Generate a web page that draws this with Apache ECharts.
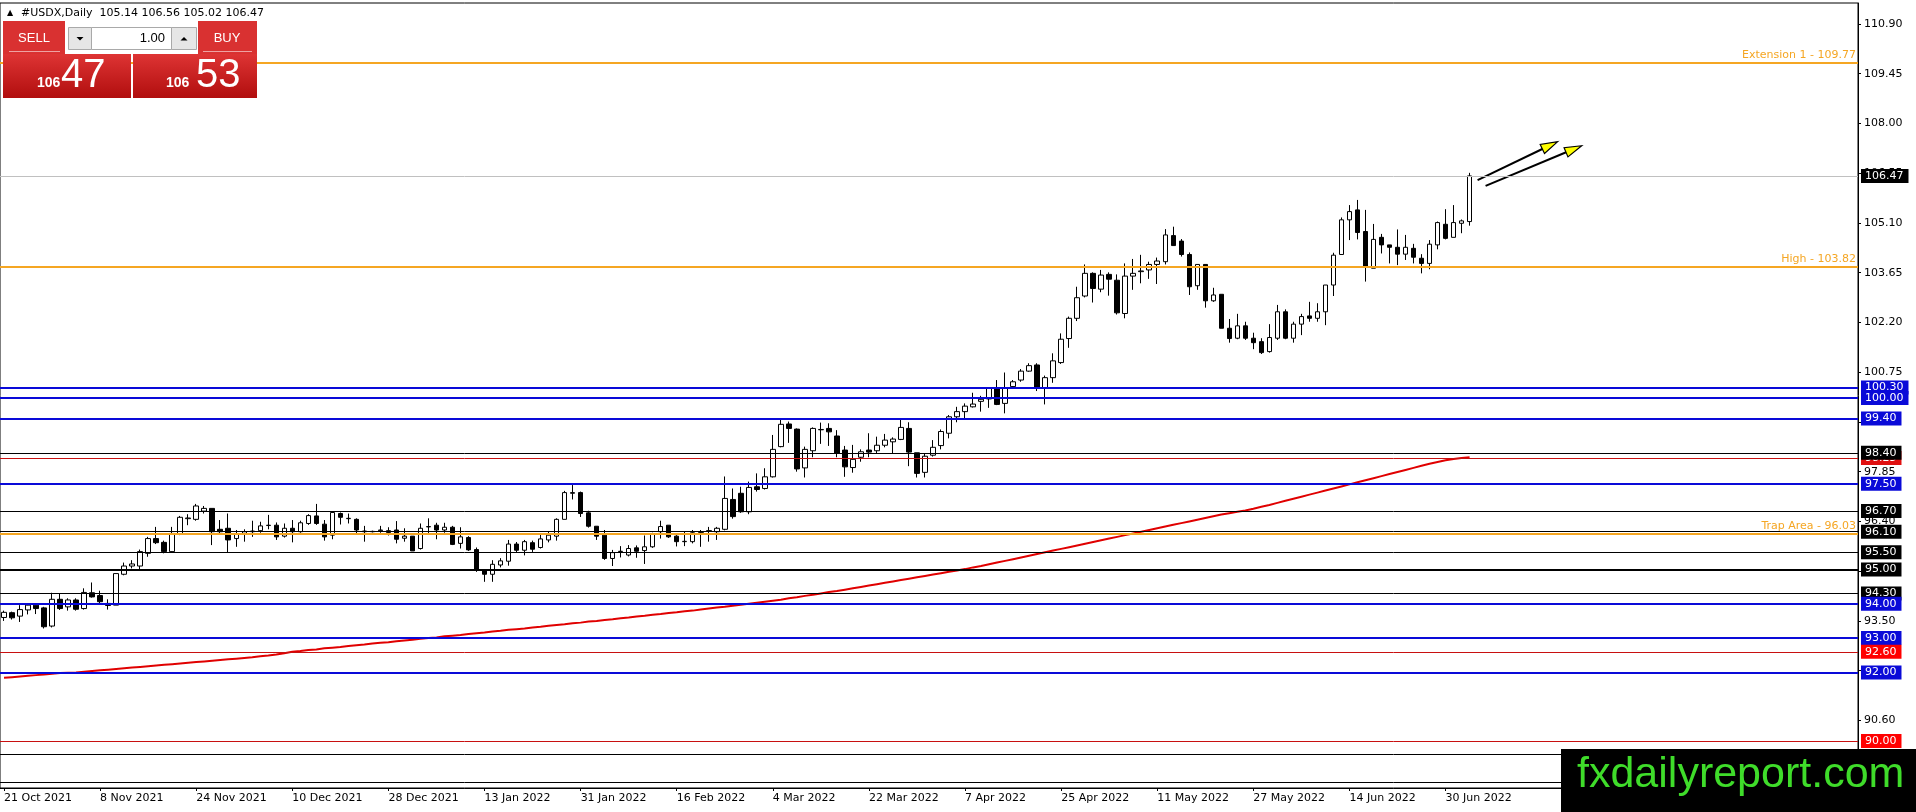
<!DOCTYPE html>
<html>
<head>
<meta charset="utf-8">
<title>#USDX,Daily</title>
<script src="https://cdn.jsdelivr.net/npm/echarts@6/dist/echarts.min.js"></script>
<style>
  html, body { margin: 0; padding: 0; background: #fff; }
  #chart { width: 1916px; height: 812px; }
</style>
</head>
<body>
<div id="chart"></div>
<script>
// daily bars, 21 Oct 2021 .. 5 Jul 2022 : [open, high, low, close]
const ohlc = [
  [93.60, 93.80, 93.50, 93.75], [93.74, 93.77, 93.54, 93.59], [93.64, 93.96, 93.47, 93.83], [93.82, 94.01, 93.69, 93.96],
  [93.96, 94.01, 93.70, 93.86], [93.88, 93.91, 93.28, 93.33], [93.35, 94.32, 93.31, 94.13], [94.13, 94.30, 93.82, 93.86],
  [93.91, 94.16, 93.80, 94.11], [94.11, 94.16, 93.80, 93.84], [93.86, 94.45, 93.83, 94.33], [94.32, 94.62, 94.18, 94.20],
  [94.24, 94.38, 93.99, 94.06], [94.01, 94.13, 93.83, 93.95], [93.96, 94.88, 93.96, 94.88], [94.86, 95.20, 94.83, 95.10],
  [95.10, 95.27, 95.03, 95.16], [95.10, 95.58, 94.96, 95.52], [95.47, 95.95, 95.37, 95.90], [95.90, 96.24, 95.74, 95.78],
  [95.79, 95.84, 95.47, 95.52], [95.52, 96.24, 95.49, 96.05], [96.03, 96.56, 96.00, 96.52], [96.48, 96.61, 96.29, 96.50],
  [96.46, 96.91, 96.42, 96.85], [96.70, 96.85, 96.63, 96.78], [96.78, 96.78, 95.71, 96.10], [96.17, 96.44, 96.05, 96.10],
  [96.20, 96.63, 95.49, 95.86], [95.90, 96.15, 95.66, 96.03], [96.05, 96.17, 95.81, 96.10], [96.10, 96.42, 95.95, 96.12],
  [96.13, 96.39, 96.07, 96.27], [96.28, 96.59, 96.17, 96.29], [96.29, 96.37, 95.86, 95.95], [95.97, 96.34, 95.93, 96.20],
  [96.20, 96.44, 95.79, 96.10], [96.10, 96.42, 96.07, 96.36], [96.34, 96.61, 96.30, 96.57], [96.56, 96.91, 96.30, 96.34],
  [96.32, 96.44, 95.84, 95.95], [96.00, 96.66, 95.88, 96.66], [96.63, 96.66, 96.31, 96.52], [96.48, 96.63, 96.34, 96.49],
  [96.46, 96.49, 96.02, 96.15], [96.12, 96.27, 95.81, 96.10], [96.10, 96.13, 96.08, 96.11], [96.13, 96.27, 96.07, 96.15],
  [96.13, 96.23, 95.99, 96.08], [96.15, 96.41, 95.76, 95.88], [95.91, 96.20, 95.81, 95.97], [95.97, 95.97, 95.54, 95.54],
  [95.61, 96.34, 95.58, 96.20], [96.24, 96.49, 96.05, 96.25], [96.29, 96.36, 95.88, 96.15], [96.15, 96.36, 96.07, 96.23],
  [96.23, 96.27, 95.71, 95.73], [95.76, 96.23, 95.61, 95.95], [95.93, 95.97, 95.54, 95.57], [95.58, 95.64, 94.93, 95.00],
  [94.98, 95.00, 94.64, 94.86], [94.86, 95.27, 94.64, 95.15], [95.13, 95.33, 95.06, 95.25], [95.24, 95.86, 95.11, 95.74],
  [95.74, 95.80, 95.48, 95.56], [95.56, 95.86, 95.41, 95.81], [95.78, 95.84, 95.51, 95.59], [95.64, 96.05, 95.61, 95.89],
  [95.86, 96.11, 95.79, 96.00], [95.97, 96.49, 95.84, 96.46], [96.46, 97.29, 96.46, 97.24], [97.22, 97.46, 97.04, 97.24],
  [97.24, 97.27, 96.53, 96.63], [96.65, 96.71, 96.22, 96.26], [96.26, 96.26, 95.86, 95.97], [96.00, 96.15, 95.28, 95.32],
  [95.32, 95.57, 95.10, 95.49], [95.52, 95.68, 95.35, 95.53], [95.42, 95.71, 95.38, 95.61], [95.63, 95.70, 95.34, 95.53],
  [95.55, 95.99, 95.16, 95.66], [95.66, 96.07, 95.63, 96.03], [96.10, 96.42, 95.90, 96.25], [96.29, 96.29, 95.92, 95.95],
  [95.97, 96.00, 95.67, 95.81], [95.81, 96.10, 95.68, 95.82], [95.81, 96.15, 95.76, 96.07], [96.08, 96.15, 95.66, 96.10],
  [96.12, 96.24, 95.81, 96.13], [96.10, 96.24, 95.86, 96.20], [96.17, 97.71, 96.14, 97.07], [97.04, 97.36, 96.48, 96.54],
  [97.22, 97.41, 96.65, 96.68], [96.68, 97.56, 96.61, 97.39], [97.41, 97.80, 97.27, 97.33], [97.36, 97.95, 97.33, 97.70],
  [97.70, 98.92, 97.68, 98.50], [98.58, 99.37, 98.56, 99.23], [99.24, 99.31, 98.69, 99.11], [99.09, 99.11, 97.85, 97.93],
  [97.96, 98.58, 97.68, 98.50], [98.46, 99.14, 98.27, 99.11], [99.07, 99.28, 98.66, 99.08], [99.11, 99.26, 98.60, 99.01],
  [98.89, 99.06, 98.27, 98.38], [98.48, 98.60, 97.70, 97.99], [97.97, 98.63, 97.82, 98.21], [98.27, 98.50, 98.14, 98.43],
  [98.48, 98.97, 98.27, 98.42], [98.46, 98.87, 98.38, 98.62], [98.62, 98.95, 98.56, 98.77], [98.72, 98.85, 98.38, 98.80],
  [98.79, 99.36, 98.77, 99.14], [99.11, 99.29, 98.01, 98.42], [98.40, 98.40, 97.68, 97.80], [97.83, 98.38, 97.68, 98.30],
  [98.33, 98.77, 98.29, 98.56], [98.61, 99.08, 98.50, 99.02], [98.97, 99.50, 98.82, 99.45], [99.45, 99.74, 99.29, 99.60],
  [99.60, 99.84, 99.38, 99.76], [99.74, 100.15, 99.72, 99.82], [99.90, 100.06, 99.60, 99.96], [99.97, 100.30, 99.71, 100.30],
  [100.30, 100.52, 99.79, 99.81], [99.84, 100.74, 99.55, 100.30], [100.33, 100.52, 100.30, 100.47], [100.52, 100.84, 100.47, 100.78],
  [100.78, 101.01, 100.76, 100.94], [100.96, 101.01, 100.20, 100.28], [100.30, 100.65, 99.81, 100.59], [100.59, 101.30, 100.44, 101.08],
  [101.03, 101.88, 100.99, 101.71], [101.73, 102.37, 101.46, 102.32], [102.32, 103.24, 102.24, 102.92], [102.97, 103.89, 102.93, 103.63],
  [103.63, 103.66, 102.78, 103.19], [103.17, 103.73, 103.08, 103.58], [103.60, 103.66, 102.98, 103.46], [103.43, 103.60, 102.43, 102.48],
  [102.46, 103.92, 102.32, 103.55], [103.55, 104.05, 103.15, 103.63], [103.68, 104.17, 103.34, 103.70], [103.73, 103.97, 103.47, 103.89],
  [103.89, 104.09, 103.32, 103.99], [103.97, 104.92, 103.89, 104.75], [104.73, 104.99, 104.44, 104.44], [104.57, 104.63, 104.12, 104.18],
  [104.18, 104.24, 103.00, 103.24], [103.27, 103.89, 103.15, 103.89], [103.89, 103.89, 102.63, 102.83], [102.83, 103.21, 102.80, 103.00],
  [103.02, 103.02, 102.03, 102.03], [102.03, 102.30, 101.61, 101.73], [101.74, 102.45, 101.71, 102.10], [102.10, 102.22, 101.69, 101.74],
  [101.74, 101.90, 101.42, 101.61], [101.64, 101.74, 101.28, 101.32], [101.35, 102.15, 101.32, 101.76], [101.74, 102.71, 101.69, 102.51],
  [102.51, 102.58, 101.71, 101.74], [101.74, 102.22, 101.61, 102.15], [102.15, 102.45, 101.83, 102.37], [102.39, 102.80, 102.22, 102.32],
  [102.32, 102.76, 102.22, 102.51], [102.51, 103.29, 102.12, 103.29], [103.29, 104.23, 102.97, 104.16], [104.18, 105.26, 104.18, 105.19],
  [105.19, 105.62, 104.60, 105.43], [105.48, 105.77, 104.62, 104.82], [104.85, 105.48, 103.39, 103.83], [103.78, 105.07, 103.78, 104.62],
  [104.68, 104.78, 104.21, 104.46], [104.46, 104.46, 103.92, 104.39], [104.39, 104.91, 103.87, 104.19], [104.19, 104.75, 104.02, 104.39],
  [104.36, 104.49, 103.92, 104.10], [104.07, 104.19, 103.63, 103.92], [103.92, 104.60, 103.75, 104.48], [104.46, 105.14, 104.33, 105.11],
  [105.06, 105.50, 104.62, 104.65], [104.68, 105.62, 104.68, 105.11], [105.09, 105.20, 104.80, 105.16], [105.14, 106.56, 105.02, 106.47]
];

// 200-day moving average (red curve), one value per bar
const ma200 = [
  91.84, 91.86, 91.88, 91.90, 91.92, 91.94, 91.96, 91.98, 91.99, 92.00, 92.02, 92.04,
  92.06, 92.08, 92.10, 92.12, 92.14, 92.16, 92.18, 92.20, 92.22, 92.24, 92.26, 92.28,
  92.30, 92.32, 92.34, 92.36, 92.38, 92.40, 92.42, 92.44, 92.47, 92.49, 92.52, 92.56,
  92.60, 92.62, 92.65, 92.67, 92.70, 92.72, 92.74, 92.77, 92.79, 92.81, 92.84, 92.86,
  92.88, 92.91, 92.93, 92.95, 92.98, 93.00, 93.02, 93.05, 93.07, 93.09, 93.12, 93.14,
  93.16, 93.19, 93.21, 93.24, 93.26, 93.28, 93.31, 93.33, 93.36, 93.38, 93.40, 93.43,
  93.45, 93.48, 93.50, 93.53, 93.55, 93.58, 93.60, 93.63, 93.65, 93.68, 93.70, 93.73,
  93.75, 93.78, 93.80, 93.83, 93.86, 93.89, 93.91, 93.94, 93.97, 94.00, 94.03, 94.06,
  94.09, 94.12, 94.16, 94.19, 94.23, 94.26, 94.30, 94.34, 94.37, 94.41, 94.45, 94.49,
  94.53, 94.57, 94.61, 94.65, 94.69, 94.73, 94.77, 94.81, 94.85, 94.89, 94.93, 94.97,
  95.01, 95.06, 95.10, 95.15, 95.20, 95.25, 95.30, 95.35, 95.40, 95.45, 95.50, 95.55,
  95.60, 95.65, 95.70, 95.75, 95.80, 95.85, 95.90, 95.95, 96.00, 96.05, 96.10, 96.15,
  96.20, 96.25, 96.30, 96.35, 96.40, 96.45, 96.50, 96.55, 96.60, 96.64, 96.68, 96.72,
  96.77, 96.83, 96.88, 96.94, 97.00, 97.06, 97.12, 97.18, 97.24, 97.30, 97.36, 97.42,
  97.48, 97.54, 97.60, 97.66, 97.72, 97.78, 97.84, 97.90, 97.96, 98.02, 98.08, 98.13,
  98.18, 98.22, 98.25, 98.27
];

// one date label every 12 bars
const dateLabels = ['21 Oct 2021', '8 Nov 2021', '24 Nov 2021', '10 Dec 2021', '28 Dec 2021', '13 Jan 2022',
  '31 Jan 2022', '16 Feb 2022', '4 Mar 2022', '22 Mar 2022', '7 Apr 2022', '25 Apr 2022', '11 May 2022',
  '27 May 2022', '14 Jun 2022', '30 Jun 2022'];
const labelStep = 12;
const slotCount = 232; // bars plus the empty shift on the right

const priceTicks = [110.90, 109.45, 108.00, 106.55, 105.10, 103.65, 102.20, 100.75, 99.30, 97.85, 96.40,
  94.95, 93.50, 92.05, 90.60, 89.15];

// horizontal levels
const blueLevels = [100.30, 100.00, 99.40, 97.50, 94.00, 93.00, 92.00];
const blackLevels = [98.40, 96.70, 96.10, 95.50, 94.30];
const boldBlackLevels = [95.00];
const redLevels = [98.25, 92.60, 90.00];
const hiddenLevels = [89.60, 88.80];
const orangeNames = ['Extension 1', 'High', 'Trap Area'];
const orangeValues = [109.77, 103.82, 96.03];

const bid = 106.47;
const ask = 106.53;

// trend arrows: [barFrom, priceFrom, barTo, priceTo]
const arrows = [[184, 106.35, 194, 107.47], [185, 106.18, 197, 107.35]];

const FONT = 'DejaVu Sans';
const BLUE = '#0a0ad8';
const RED = '#e00000';
const ORANGE = '#f5a623';

const categories = [];
for (let i = 0; i < slotCount; i++) {
  const k = i / labelStep;
  categories.push(i % labelStep === 0 && k < dateLabels.length ? dateLabels[k] : 'b' + i);
}
const showDate = (idx) => idx % labelStep === 0 && idx / labelStep < dateLabels.length;

const candleData = ohlc.map(r => [r[0], r[3], r[2], r[1]]);

const boxLabel = (bg) => ({
  show: true, position: 'end', distance: 3,
  formatter: p => p.value.toFixed(2),
  color: '#fff', backgroundColor: bg, padding: [1, 5, 0, 4],
  fontSize: 11, fontFamily: FONT, lineHeight: 13
});
const level = (v, color, width, label) => ({
  yAxis: v, lineStyle: { color: color, width: width, type: 'solid' }, label: label || { show: false }
});

// levels drawn in order: later ones sit on top
const levelLines = [];
orangeValues.forEach((v, i) => levelLines.push(level(v, ORANGE, 2, {
  show: true, position: 'insideEndTop', distance: 2,
  formatter: orangeNames[i] + ' - ' + v.toFixed(2),
  color: ORANGE, fontSize: 11, fontFamily: FONT
})));
hiddenLevels.forEach(v => levelLines.push(level(v, '#000', 1)));
levelLines.push(level(redLevels[0], '#c81010', 1, boxLabel('#e01010')));
const boxed = [];
blueLevels.forEach(v => boxed.push([v, BLUE, 2, BLUE]));
blackLevels.forEach(v => boxed.push([v, '#000', 1, '#000']));
boldBlackLevels.forEach(v => boxed.push([v, '#000', 2, '#000']));
redLevels.slice(1).forEach(v => boxed.push([v, '#c81010', 1, '#ff0000']));
boxed.sort((a, b) => b[0] - a[0]);
boxed.forEach(b => levelLines.push(level(b[0], b[1], b[2], boxLabel(b[3]))));
levelLines.push(level(bid, '#c0c0c0', 1, boxLabel('#000')));

const last = ohlc[ohlc.length - 1];
const headerText = '#USDX,Daily  ' + last.map(v => v.toFixed(2)).join(' ');
const split = (p) => p.toFixed(2).split('.');
const bidParts = split(bid), askParts = split(ask);

const panelFill = {
  type: 'linear', x: 0, y: 0, x2: 0, y2: 1,
  colorStops: [{ offset: 0, color: '#de3434' }, { offset: 1, color: '#b10e0e' }]
};
const txt = (x, y, text, font, fill, align) => ({
  type: 'text', x: x, y: y, z: 110,
  style: { text: text, font: font, fill: fill, align: align || 'left', textAlign: align || 'left',
    verticalAlign: 'middle', textVerticalAlign: 'middle' }
});

const chart = echarts.init(document.getElementById('chart'), null, { renderer: 'canvas' });
chart.setOption({
  animation: false,
  backgroundColor: '#fff',
  grid: { left: 0, right: 58, top: 3, bottom: 24, show: true, borderColor: '#000', borderWidth: 1 },
  xAxis: {
    type: 'category', data: categories, boundaryGap: true,
    axisLine: { lineStyle: { color: '#000', width: 1 } },
    axisTick: { show: true, alignWithLabel: true, interval: showDate, length: 3, lineStyle: { color: '#000' } },
    axisLabel: {
      interval: showDate, align: 'left', margin: 5, color: '#000', fontSize: 11, fontFamily: FONT,
      showMinLabel: true, showMaxLabel: true
    },
    splitLine: { show: false }
  },
  yAxis: {
    type: 'value', position: 'right', min: 88.63, max: 111.51, scale: true,
    axisLine: { show: true, lineStyle: { color: '#000', width: 1 } },
    axisTick: { show: true, length: 3, customValues: priceTicks, lineStyle: { color: '#000' } },
    axisLabel: {
      customValues: priceTicks, formatter: v => v.toFixed(2), margin: 6,
      color: '#000', fontSize: 11, fontFamily: FONT
    },
    splitLine: { show: false }
  },
  series: [
    {
      type: 'candlestick', data: candleData, barWidth: 5, z: 2,
      itemStyle: { color: '#fff', color0: '#000', borderColor: '#000', borderColor0: '#000', borderWidth: 1 },
      emphasis: { disabled: true }
    },
    {
      type: 'line', data: ma200, symbol: 'none', z: 3, silent: true,
      lineStyle: { color: RED, width: 2 },
      markLine: { silent: true, symbol: 'none', animation: false, data: levelLines }
    },
    {
      type: 'custom', z: 4, silent: true, data: arrows,
      encode: { x: [0, 2], y: [1, 3] },
      renderItem: (params, api) => {
        const a = api.coord([api.value(0), api.value(1)]);
        const b = api.coord([api.value(2), api.value(3)]);
        const dx = b[0] - a[0], dy = b[1] - a[1];
        const len = Math.sqrt(dx * dx + dy * dy);
        const ux = dx / len, uy = dy / len;
        const hl = 17, hw = 5;
        const bx = b[0] - ux * hl, by = b[1] - uy * hl;
        return {
          type: 'group', children: [
            { type: 'line', shape: { x1: a[0], y1: a[1], x2: bx + ux * 4, y2: by + uy * 4 },
              style: { stroke: '#000', lineWidth: 2 } },
            { type: 'polygon', shape: { points: [[b[0], b[1]], [bx - uy * hw, by + ux * hw], [bx + uy * hw, by - ux * hw]] },
              style: { fill: '#ffff00', stroke: '#000', lineWidth: 1.2 } }
          ]
        };
      }
    }
  ],
  graphic: [
    txt(7, 13, '▲', '8px ' + FONT, '#000'),
    txt(21, 13, headerText, '11px ' + FONT, '#000'),
    // one-click trading panel
    { type: 'rect', z: 100, shape: { x: 3, y: 21, width: 62, height: 33 }, style: { fill: '#d93131' } },
    { type: 'rect', z: 100, shape: { x: 198, y: 21, width: 59, height: 33 }, style: { fill: '#d93131' } },
    { type: 'rect', z: 100, shape: { x: 3, y: 54, width: 128, height: 44 }, style: { fill: panelFill } },
    { type: 'rect', z: 100, shape: { x: 133, y: 54, width: 124, height: 44 }, style: { fill: panelFill } },
    { type: 'line', z: 101, shape: { x1: 9, y1: 51.5, x2: 60, y2: 51.5 }, style: { stroke: 'rgba(255,255,255,0.55)', lineWidth: 1 } },
    { type: 'line', z: 101, shape: { x1: 203, y1: 51.5, x2: 252, y2: 51.5 }, style: { stroke: 'rgba(255,255,255,0.55)', lineWidth: 1 } },
    { type: 'rect', z: 100, shape: { x: 68.5, y: 27.5, width: 23, height: 22 }, style: { fill: '#e6e6e6', stroke: '#a9a9a9' } },
    { type: 'rect', z: 100, shape: { x: 91.5, y: 27.5, width: 80, height: 22 }, style: { fill: '#fff', stroke: '#a9a9a9' } },
    { type: 'rect', z: 100, shape: { x: 171.5, y: 27.5, width: 25, height: 22 }, style: { fill: '#e6e6e6', stroke: '#a9a9a9' } },
    { type: 'polygon', z: 101, shape: { points: [[76.5, 37], [83.5, 37], [80, 40.5]] }, style: { fill: '#000' } },
    { type: 'polygon', z: 101, shape: { points: [[180.5, 40.5], [187.5, 40.5], [184, 37]] }, style: { fill: '#000' } },
    txt(34, 38, 'SELL', '13px Liberation Sans', '#fff', 'center'),
    txt(227, 38, 'BUY', '13px Liberation Sans', '#fff', 'center'),
    txt(165, 38, '1.00', '13px Liberation Sans', '#000', 'right'),
    txt(37, 83, bidParts[0], 'bold 14px Liberation Sans', '#fff'),
    txt(61, 76, bidParts[1], '40px Liberation Sans', '#fff'),
    txt(166, 83, askParts[0], 'bold 14px Liberation Sans', '#fff'),
    txt(196, 76, askParts[1], '40px Liberation Sans', '#fff'),
    // watermark box
    { type: 'rect', z: 100, shape: { x: 1561, y: 749, width: 355, height: 63 }, style: { fill: '#000' } },
    txt(1577, 775, 'fxdailyreport.com', '43px Liberation Sans', '#3fdc2a')
  ]
});
</script>
</body>
</html>
